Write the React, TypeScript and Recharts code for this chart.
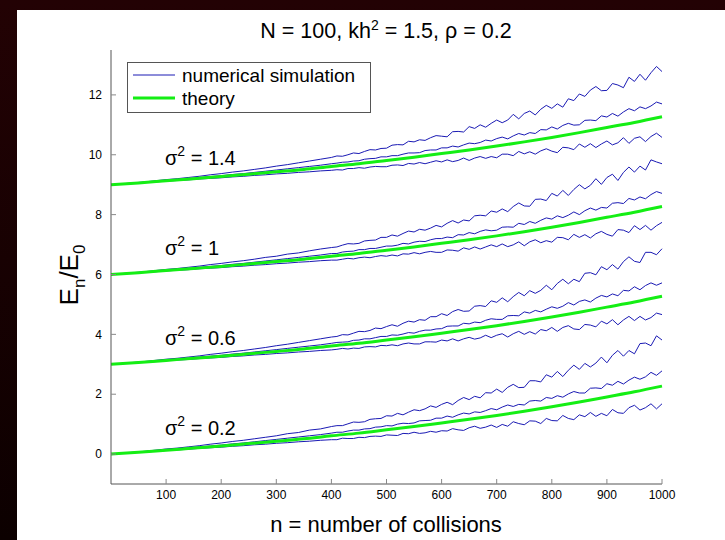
import React from 'react';
import { LineChart, Line, XAxis, YAxis } from 'recharts';

// collision counts sampled for the simulated runs (coarser before 400, where the runs are smooth)
const collisions = [
  0, 20, 40, 60, 80, 100, 120, 140, 160, 180, 200, 220, 240, 260, 280, 300, 320, 340, 360, 380, 400,
  410, 420, 430, 440, 450, 460, 470, 480, 490, 500,
  510, 520, 530, 540, 550, 560, 570, 580, 590, 600,
  610, 620, 630, 640, 650, 660, 670, 680, 690, 700,
  710, 720, 730, 740, 750, 760, 770, 780, 790, 800,
  810, 820, 830, 840, 850, 860, 870, 880, 890, 900,
  910, 920, 930, 940, 950, 960, 970, 980, 990, 1000,
];

// sigma^2 = 0.2 (offset 0)
const upper02 = [
  0, 0.03, 0.06, 0.09, 0.13, 0.17, 0.2, 0.24, 0.28, 0.33, 0.37, 0.42, 0.46, 0.51, 0.56, 0.61, 0.68, 0.72, 0.8, 0.84, 0.92,
  0.95, 0.95, 1.01, 1.07, 1.06, 1.08, 1.16, 1.18, 1.19, 1.28,
  1.27, 1.36, 1.31, 1.4, 1.48, 1.45, 1.51, 1.61, 1.56, 1.66,
  1.73, 1.65, 1.79, 1.89, 1.82, 1.93, 1.88, 2.05, 2.04, 2.17,
  2.06, 2.23, 2.33, 2.22, 2.23, 2.45, 2.45, 2.41, 2.65, 2.57,
  2.76, 2.59, 2.8, 2.97, 2.83, 3.03, 2.91, 3.04, 3.24, 3.05,
  3.3, 3.46, 3.27, 3.46, 3.35, 3.69, 3.71, 3.62, 3.95, 3.81,
];
const mean02 = [
  0, 0.03, 0.05, 0.08, 0.11, 0.14, 0.17, 0.2, 0.24, 0.27, 0.3, 0.34, 0.37, 0.41, 0.45, 0.49, 0.53, 0.57, 0.61, 0.65, 0.7,
  0.73, 0.73, 0.77, 0.8, 0.8, 0.84, 0.85, 0.9, 0.91, 0.95,
  0.94, 1.0, 1.03, 1.02, 1.04, 1.11, 1.12, 1.13, 1.2, 1.2,
  1.27, 1.23, 1.31, 1.37, 1.34, 1.41, 1.39, 1.45, 1.52, 1.48,
  1.57, 1.64, 1.59, 1.66, 1.64, 1.77, 1.79, 1.77, 1.89, 1.86,
  1.95, 1.9, 2.01, 2.09, 2.04, 2.04, 2.2, 2.21, 2.19, 2.35,
  2.3, 2.43, 2.34, 2.47, 2.57, 2.5, 2.58, 2.73, 2.63, 2.78,
];
const lower02 = [
  0, 0.02, 0.05, 0.07, 0.09, 0.12, 0.14, 0.16, 0.19, 0.21, 0.23, 0.26, 0.28, 0.31, 0.33, 0.36, 0.38, 0.41, 0.43, 0.46, 0.48,
  0.48, 0.53, 0.52, 0.52, 0.56, 0.55, 0.59, 0.6, 0.59, 0.64,
  0.63, 0.62, 0.69, 0.68, 0.73, 0.69, 0.71, 0.76, 0.73, 0.78,
  0.77, 0.85, 0.81, 0.79, 0.88, 0.93, 0.86, 0.9, 0.97, 0.89,
  0.99, 0.93, 1.08, 1.02, 0.98, 1.11, 1.1, 1.02, 1.19, 1.12,
  1.11, 1.29, 1.19, 1.15, 1.31, 1.25, 1.39, 1.26, 1.36, 1.28,
  1.49, 1.38, 1.36, 1.55, 1.63, 1.47, 1.55, 1.68, 1.51, 1.68,
];

// sigma^2 = 0.6 (offset 3)
const upper06 = [
  3, 3.03, 3.06, 3.09, 3.13, 3.17, 3.2, 3.24, 3.28, 3.33, 3.37, 3.42, 3.46, 3.51, 3.56, 3.62, 3.67, 3.73, 3.79, 3.85, 3.91,
  3.93, 3.99, 3.98, 4.04, 4.1, 4.09, 4.13, 4.21, 4.19, 4.26,
  4.32, 4.27, 4.37, 4.44, 4.41, 4.49, 4.47, 4.59, 4.59, 4.69,
  4.63, 4.76, 4.83, 4.77, 4.78, 4.94, 4.96, 4.93, 5.12, 5.07,
  5.22, 5.09, 5.26, 5.4, 5.29, 5.46, 5.37, 5.47, 5.64, 5.49,
  5.7, 5.84, 5.69, 5.84, 5.76, 6.04, 6.06, 5.99, 6.26, 6.16,
  6.33, 6.18, 6.43, 6.59, 6.44, 6.4, 6.74, 6.74, 6.66, 6.86,
];
const mean06 = [
  3, 3.03, 3.05, 3.08, 3.11, 3.14, 3.17, 3.2, 3.24, 3.27, 3.3, 3.34, 3.37, 3.41, 3.45, 3.49, 3.53, 3.57, 3.61, 3.65, 3.7,
  3.73, 3.74, 3.75, 3.8, 3.81, 3.85, 3.85, 3.89, 3.93, 3.93,
  3.98, 3.97, 4.01, 4.06, 4.04, 4.1, 4.14, 4.14, 4.18, 4.19,
  4.27, 4.28, 4.28, 4.37, 4.35, 4.41, 4.39, 4.47, 4.52, 4.5,
  4.5, 4.62, 4.63, 4.62, 4.75, 4.71, 4.8, 4.75, 4.84, 4.92,
  4.87, 4.94, 5.06, 4.98, 5.1, 5.15, 5.08, 5.21, 5.3, 5.25,
  5.35, 5.29, 5.47, 5.45, 5.59, 5.49, 5.63, 5.72, 5.64, 5.72,
];
const lower06 = [
  3, 3.02, 3.05, 3.07, 3.09, 3.12, 3.14, 3.16, 3.19, 3.21, 3.23, 3.26, 3.28, 3.31, 3.33, 3.36, 3.38, 3.41, 3.43, 3.46, 3.48,
  3.5, 3.53, 3.51, 3.54, 3.53, 3.58, 3.59, 3.58, 3.63, 3.62,
  3.65, 3.62, 3.68, 3.71, 3.68, 3.68, 3.75, 3.75, 3.74, 3.81,
  3.78, 3.85, 3.78, 3.85, 3.9, 3.84, 3.88, 3.97, 3.89, 3.97,
  4.02, 3.91, 4.02, 4.1, 4.0, 4.09, 4.01, 4.16, 4.12, 4.23,
  4.1, 4.23, 4.29, 4.18, 4.16, 4.33, 4.31, 4.25, 4.44, 4.35,
  4.49, 4.32, 4.48, 4.6, 4.46, 4.6, 4.48, 4.56, 4.71, 4.66,
];

// sigma^2 = 1 (offset 6)
const upper1 = [
  6, 6.03, 6.06, 6.09, 6.13, 6.17, 6.2, 6.24, 6.28, 6.33, 6.37, 6.42, 6.46, 6.51, 6.57, 6.61, 6.68, 6.72, 6.79, 6.85, 6.9,
  6.92, 6.98, 7.03, 7.02, 7.04, 7.12, 7.14, 7.15, 7.24, 7.24,
  7.32, 7.28, 7.37, 7.45, 7.42, 7.51, 7.48, 7.55, 7.64, 7.59,
  7.71, 7.8, 7.72, 7.82, 7.79, 7.96, 7.98, 7.96, 8.12, 8.08,
  8.19, 8.1, 8.27, 8.39, 8.29, 8.28, 8.51, 8.52, 8.47, 8.71,
  8.62, 8.81, 8.64, 8.84, 9.0, 8.86, 8.98, 9.2, 9.01, 9.24,
  9.35, 9.14, 9.41, 9.59, 9.42, 9.62, 9.49, 9.83, 9.76, 9.7,
];
const mean1 = [
  6, 6.03, 6.05, 6.08, 6.11, 6.14, 6.17, 6.2, 6.24, 6.27, 6.3, 6.34, 6.37, 6.41, 6.45, 6.49, 6.53, 6.57, 6.61, 6.65, 6.7,
  6.7, 6.75, 6.77, 6.78, 6.83, 6.83, 6.87, 6.87, 6.91, 6.95,
  6.95, 6.98, 7.04, 7.02, 7.08, 7.11, 7.1, 7.16, 7.2, 7.2,
  7.25, 7.23, 7.33, 7.32, 7.4, 7.36, 7.44, 7.49, 7.46, 7.48,
  7.58, 7.59, 7.58, 7.71, 7.67, 7.77, 7.71, 7.81, 7.89, 7.85,
  7.96, 7.9, 7.98, 8.09, 8.0, 8.13, 8.22, 8.15, 8.24, 8.22,
  8.38, 8.4, 8.37, 8.54, 8.49, 8.59, 8.53, 8.67, 8.77, 8.71,
];
const lower1 = [
  6, 6.02, 6.05, 6.07, 6.09, 6.12, 6.14, 6.16, 6.19, 6.21, 6.23, 6.26, 6.28, 6.31, 6.33, 6.36, 6.38, 6.41, 6.43, 6.46, 6.48,
  6.48, 6.51, 6.54, 6.52, 6.56, 6.58, 6.56, 6.6, 6.63, 6.61,
  6.65, 6.62, 6.69, 6.68, 6.73, 6.69, 6.74, 6.77, 6.74, 6.74,
  6.82, 6.81, 6.78, 6.89, 6.84, 6.92, 6.85, 6.92, 6.99, 6.93,
  7.02, 6.93, 6.99, 7.09, 6.96, 7.09, 7.16, 7.06, 7.13, 7.08,
  7.24, 7.23, 7.16, 7.34, 7.24, 7.33, 7.22, 7.36, 7.44, 7.34,
  7.28, 7.5, 7.48, 7.4, 7.63, 7.5, 7.64, 7.48, 7.63, 7.74,
];

// sigma^2 = 1.4 (offset 9)
const upper14 = [
  9, 9.03, 9.06, 9.09, 9.13, 9.17, 9.2, 9.24, 9.28, 9.33, 9.37, 9.42, 9.46, 9.51, 9.56, 9.62, 9.67, 9.73, 9.79, 9.85, 9.91,
  9.96, 9.95, 10.0, 10.06, 10.04, 10.11, 10.17, 10.16, 10.21, 10.22,
  10.32, 10.34, 10.33, 10.45, 10.43, 10.5, 10.48, 10.57, 10.64, 10.62,
  10.6, 10.77, 10.78, 10.76, 10.94, 10.88, 11.0, 10.92, 11.05, 11.16,
  11.07, 11.16, 11.35, 11.2, 11.38, 11.46, 11.33, 11.52, 11.65, 11.55,
  11.7, 11.59, 11.87, 11.81, 12.03, 11.95, 12.16, 12.28, 12.14, 12.15,
  12.38, 12.33, 12.24, 12.59, 12.45, 12.69, 12.49, 12.74, 12.95, 12.78,
];
const mean14 = [
  9, 9.03, 9.05, 9.08, 9.11, 9.14, 9.17, 9.2, 9.24, 9.27, 9.3, 9.34, 9.37, 9.41, 9.45, 9.49, 9.53, 9.57, 9.61, 9.65, 9.7,
  9.72, 9.75, 9.76, 9.79, 9.8, 9.85, 9.87, 9.88, 9.93, 9.93,
  9.97, 9.97, 10.02, 10.06, 10.06, 10.07, 10.14, 10.16, 10.16, 10.23,
  10.23, 10.29, 10.26, 10.33, 10.39, 10.37, 10.41, 10.49, 10.46, 10.54,
  10.59, 10.53, 10.63, 10.71, 10.66, 10.74, 10.71, 10.84, 10.83, 10.93,
  10.86, 10.98, 11.05, 10.99, 11.0, 11.15, 11.16, 11.14, 11.3, 11.26,
  11.38, 11.29, 11.43, 11.54, 11.47, 11.6, 11.54, 11.63, 11.76, 11.7,
];
const lower14 = [
  9, 9.02, 9.05, 9.07, 9.09, 9.12, 9.14, 9.16, 9.19, 9.21, 9.23, 9.26, 9.28, 9.31, 9.33, 9.36, 9.38, 9.41, 9.43, 9.46, 9.48,
  9.5, 9.49, 9.54, 9.54, 9.57, 9.55, 9.59, 9.61, 9.6, 9.6,
  9.65, 9.66, 9.64, 9.71, 9.69, 9.74, 9.7, 9.75, 9.8, 9.76,
  9.83, 9.77, 9.81, 9.89, 9.81, 9.89, 9.94, 9.88, 9.94, 9.9,
  10.02, 10.02, 9.97, 10.11, 10.03, 10.1, 10.02, 10.13, 10.2, 10.12,
  10.07, 10.25, 10.23, 10.17, 10.36, 10.25, 10.37, 10.24, 10.36, 10.46,
  10.33, 10.4, 10.57, 10.38, 10.55, 10.6, 10.44, 10.61, 10.72, 10.58,
];

// theory curves
const theoryN = [0, 50, 100, 150, 200, 250, 300, 350, 400, 450, 500, 550, 600, 650, 700, 750, 800, 850, 900, 950, 1000];
const theory02 = [0, 0.06, 0.13, 0.2, 0.27, 0.35, 0.43, 0.51, 0.61, 0.7, 0.81, 0.92, 1.04, 1.16, 1.29, 1.43, 1.58, 1.74, 1.91, 2.08, 2.27];
const theory06 = [3, 3.06, 3.13, 3.2, 3.27, 3.35, 3.43, 3.51, 3.61, 3.7, 3.81, 3.92, 4.04, 4.16, 4.29, 4.43, 4.58, 4.74, 4.91, 5.08, 5.27];
const theory1 = [6, 6.06, 6.13, 6.2, 6.27, 6.35, 6.43, 6.51, 6.61, 6.7, 6.81, 6.92, 7.04, 7.16, 7.29, 7.43, 7.58, 7.74, 7.91, 8.08, 8.27];
const theory14 = [9, 9.06, 9.13, 9.2, 9.27, 9.35, 9.43, 9.51, 9.61, 9.7, 9.81, 9.92, 10.04, 10.16, 10.29, 10.43, 10.58, 10.74, 10.91, 11.08, 11.27];

const xTicks = [100, 200, 300, 400, 500, 600, 700, 800, 900, 1000];
const yTicks = [0, 2, 4, 6, 8, 10, 12];
const sigmaLabels = ['0.2', '0.6', '1', '1.4'];

const simSeries: Record<string, number[]> = {
  u02: upper02, m02: mean02, l02: lower02,
  u06: upper06, m06: mean06, l06: lower06,
  u1: upper1, m1: mean1, l1: lower1,
  u14: upper14, m14: mean14, l14: lower14,
};
const theorySeries: Record<string, number[]> = { t02: theory02, t06: theory06, t1: theory1, t14: theory14 };

const simRows = collisions.map((n, i) => {
  const row: Record<string, number> = { n };
  Object.keys(simSeries).forEach((k) => { row[k] = simSeries[k][i]; });
  return row;
});
const theoryRows = theoryN.map((n, i) => {
  const row: Record<string, number> = { n };
  Object.keys(theorySeries).forEach((k) => { row[k] = theorySeries[k][i]; });
  return row;
});

const FONT = '"Liberation Sans", Arial, Helvetica, sans-serif';
const BLUE = '#1a1ab4';
const GREEN = '#14ee14';
const FRAME = '#555';

export default function App() {
  return (
    <div style={{ position: 'fixed', left: 0, top: 0, width: 725, height: 540, background: 'linear-gradient(#230204, #0c0000)', fontFamily: FONT }}>
      <div style={{ position: 'absolute', left: 17, top: 10, width: 708, height: 530, background: '#fff' }} />
      <div style={{ position: 'absolute', left: 0, top: 0 }}>
        <LineChart width={725} height={540} data={simRows} margin={{ top: 50, right: 63, bottom: 26, left: 71 }}>
          <XAxis
            dataKey="n" type="number" domain={[0, 1000]} ticks={xTicks} interval={0}
            height={30} tickSize={-5} tickMargin={11}
            stroke={FRAME} tickLine={{ stroke: '#888' }}
            tick={{ fontSize: 12, fill: '#000', fontFamily: FONT }}
          />
          <XAxis
            xAxisId="top" orientation="top" dataKey="n" type="number" domain={[0, 1000]} ticks={xTicks}
            height={0} tickSize={-5} tick={false} stroke={FRAME} tickLine={{ stroke: '#888' }} allowDataOverflow
          />
          <YAxis
            type="number" domain={[-1, 13.5]} ticks={yTicks} interval={0}
            width={40} tickSize={-5} tickMargin={14}
            stroke={FRAME} tickLine={{ stroke: '#888' }}
            tick={{ fontSize: 12, fill: '#000', fontFamily: FONT }}
          />
          <YAxis
            yAxisId="right" orientation="right" type="number" domain={[-1, 13.5]} ticks={yTicks}
            width={0} tickSize={-5} tick={false} stroke={FRAME} tickLine={{ stroke: '#888' }} allowDataOverflow
          />
          {Object.keys(simSeries).map((k) => (
            <Line key={k} dataKey={k} type="linear" stroke={BLUE} strokeWidth={1} dot={false} isAnimationActive={false} />
          ))}
          {Object.keys(theorySeries).map((k) => (
            <Line key={k} data={theoryRows} dataKey={k} type="monotone" stroke={GREEN} strokeWidth={3} dot={false} isAnimationActive={false} />
          ))}
        </LineChart>
      </div>
      <svg width={725} height={540} style={{ position: 'absolute', left: 0, top: 0, pointerEvents: 'none' }} fontFamily={FONT}>
        <text x={386} y={38} fontSize={21.5} textAnchor="middle" fill="#000">
          N = 100, kh<tspan dy={-8} fontSize={14}>2</tspan><tspan dy={8}> = 1.5, ρ = 0.2</tspan>
        </text>
        {sigmaLabels.map((s, i) => (
          <text key={s} x={165} y={165 + 90 * (3 - i)} fontSize={20} fill="#000">
            σ<tspan dy={-9} fontSize={14}>2</tspan><tspan dy={9}> = {s}</tspan>
          </text>
        ))}
        <text x={386} y={532} fontSize={22} textAnchor="middle" fill="#000">n = number of collisions</text>
        <text transform="translate(78 275) rotate(-90)" fontSize={26} textAnchor="middle" fill="#000">
          E<tspan dy={7} fontSize={17}>n</tspan><tspan dy={-7}>/E</tspan><tspan dy={7} fontSize={17}>0</tspan>
        </text>
        <rect x={127.5} y={62.5} width={243} height={50} fill="#fff" stroke={FRAME} />
        <line x1={133} x2={175} y1={75} y2={75} stroke={BLUE} strokeWidth={1} />
        <text x={182} y={82} fontSize={19} fill="#000">numerical simulation</text>
        <line x1={133} x2={175} y1={98} y2={98} stroke={GREEN} strokeWidth={3} />
        <text x={182} y={105} fontSize={19} fill="#000">theory</text>
      </svg>
    </div>
  );
}
